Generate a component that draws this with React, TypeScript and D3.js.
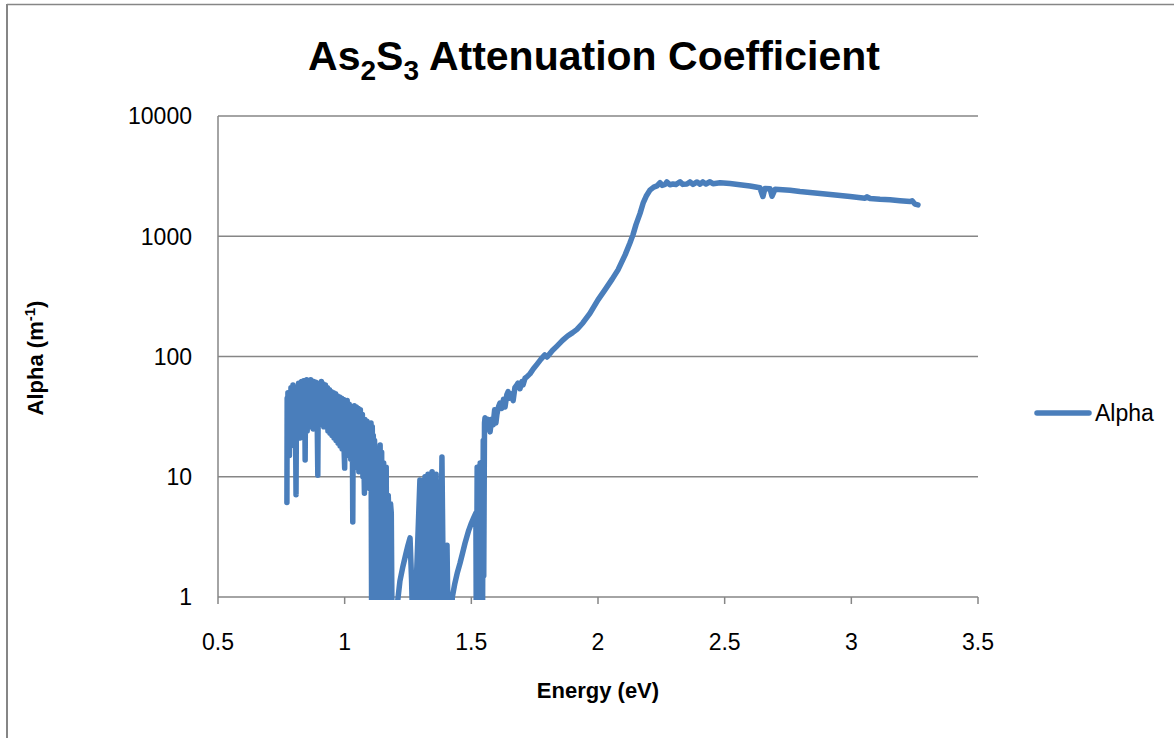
import React from "react";
import * as d3 from "d3";

// ---- data (energy eV, alpha m^-1) ----
const noisyRegion: [number, number][] = [
  [0.772, 6.1], [0.773, 45], [0.775, 16], [0.776, 50], [0.778, 22], [0.780, 42], [0.782, 15], [0.784, 48],
  [0.786, 19], [0.788, 55], [0.790, 24], [0.792, 52], [0.794, 20], [0.796, 58], [0.798, 26], [0.800, 45],
  [0.802, 18], [0.804, 54], [0.806, 28], [0.808, 7.1], [0.810, 50], [0.812, 22], [0.814, 56], [0.816, 30],
  [0.818, 60], [0.820, 24], [0.822, 52], [0.824, 21], [0.826, 58], [0.828, 27], [0.830, 62], [0.832, 23],
  [0.834, 55], [0.836, 30], [0.838, 63], [0.840, 25], [0.842, 57], [0.844, 13.8], [0.846, 60], [0.848, 28],
  [0.850, 64], [0.852, 24], [0.854, 58], [0.856, 31], [0.858, 62], [0.860, 26], [0.862, 56], [0.864, 33],
  [0.866, 64], [0.868, 27], [0.870, 60], [0.872, 30], [0.874, 55], [0.876, 25], [0.878, 62], [0.880, 32],
  [0.882, 58], [0.884, 27], [0.886, 61], [0.888, 29], [0.890, 56], [0.892, 24], [0.894, 10.3], [0.896, 54],
  [0.898, 30], [0.900, 60], [0.902, 27], [0.904, 57], [0.906, 33], [0.908, 62], [0.910, 28], [0.912, 55],
  [0.914, 31], [0.916, 59], [0.918, 26], [0.920, 53], [0.922, 30], [0.924, 58], [0.926, 27], [0.928, 52],
  [0.930, 29], [0.932, 55], [0.934, 24], [0.936, 50], [0.938, 28], [0.940, 53], [0.942, 23], [0.944, 48],
  [0.946, 27], [0.948, 51], [0.950, 22], [0.952, 47], [0.954, 26], [0.956, 50], [0.958, 21], [0.960, 45],
  [0.962, 25], [0.964, 49], [0.966, 20], [0.968, 44], [0.970, 24], [0.972, 47], [0.974, 19], [0.976, 43],
  [0.978, 23], [0.980, 46], [0.982, 18], [0.984, 42], [0.986, 22], [0.988, 45], [0.990, 17], [0.992, 40],
  [0.994, 21], [0.996, 44], [0.998, 16], [1.000, 11.8], [1.002, 42], [1.004, 20], [1.006, 38], [1.008, 16],
  [1.010, 43], [1.012, 19], [1.014, 37], [1.016, 15], [1.018, 40], [1.020, 18], [1.022, 35], [1.024, 14],
  [1.026, 38], [1.028, 17], [1.030, 33], [1.032, 4.2], [1.034, 36], [1.036, 16], [1.038, 39], [1.040, 13],
  [1.042, 34], [1.044, 15], [1.046, 38], [1.048, 12], [1.050, 33], [1.052, 16], [1.054, 37], [1.056, 11],
  [1.058, 32], [1.060, 14], [1.062, 36], [1.064, 12], [1.066, 30], [1.068, 15], [1.070, 33], [1.072, 10],
  [1.074, 29], [1.076, 13], [1.078, 7.3], [1.080, 30], [1.082, 11], [1.084, 27], [1.086, 12], [1.088, 29],
  [1.090, 9], [1.092, 26], [1.094, 11], [1.096, 28], [1.098, 8], [1.100, 24], [1.102, 10], [1.104, 28],
  [1.107, 0.3], [1.109, 26], [1.111, 8], [1.113, 22], [1.116, 0.3], [1.118, 20], [1.121, 0.3], [1.124, 2.4],
  [1.126, 0.3], [1.130, 14], [1.133, 5], [1.140, 18.4], [1.143, 0.3], [1.146, 16], [1.150, 0.3], [1.154, 13],
  [1.158, 0.3], [1.164, 12], [1.167, 0.3], [1.172, 7], [1.175, 4.5], [1.178, 0.3], [1.181, 6], [1.184, 5],
  [1.188, 0.3],
];

const gapRegion: [number, number][] = [
  [1.200, 0.6], [1.211, 1.0], [1.218, 1.35], [1.230, 1.8], [1.242, 2.3], [1.250, 2.7], [1.258, 3.1],
  [1.264, 1.4], [1.272, 0.3],
  [1.297, 9.4], [1.303, 0.3], [1.317, 10], [1.321, 0.3], [1.329, 10.5], [1.333, 0.3], [1.345, 11],
  [1.349, 0.3], [1.361, 10.5], [1.365, 0.3], [1.372, 9], [1.376, 0.3], [1.384, 14.6], [1.392, 0.3],
  [1.404, 2.7], [1.410, 0.3],
  [1.418, 0.5], [1.425, 1.0], [1.435, 1.3], [1.445, 1.6], [1.455, 1.9], [1.465, 2.3], [1.475, 2.8],
  [1.490, 3.6], [1.500, 4.1], [1.510, 4.6], [1.518, 5.0],
  [1.520, 0.3], [1.523, 12], [1.526, 0.3], [1.529, 10], [1.532, 0.3], [1.535, 13], [1.538, 0.3],
  [1.541, 8], [1.544, 0.5], [1.547, 20], [1.549, 1.5], [1.552, 28],
];

const riseRegion: [number, number][] = [
  [1.554, 31], [1.560, 27], [1.566, 30], [1.574, 23.6], [1.580, 30], [1.586, 27], [1.592, 36], [1.597, 28],
  [1.601, 33], [1.607, 38], [1.613, 41], [1.620, 37], [1.627, 44], [1.633, 38], [1.640, 48], [1.645, 51],
  [1.650, 45], [1.657, 49], [1.665, 43], [1.672, 55], [1.680, 58], [1.684, 60], [1.692, 54], [1.700, 62],
  [1.704, 58], [1.712, 66], [1.720, 68], [1.732, 72], [1.745, 79], [1.759, 86], [1.775, 95], [1.790, 103],
  [1.799, 99], [1.820, 112], [1.838, 122], [1.860, 136], [1.880, 148], [1.900, 158], [1.917, 168],
  [1.940, 190], [1.968, 228], [2.000, 296], [2.028, 360], [2.056, 440], [2.079, 525], [2.107, 700],
  [2.126, 880], [2.138, 1027], [2.150, 1250], [2.166, 1550], [2.178, 1884], [2.190, 2150], [2.205, 2420],
  [2.220, 2560], [2.233, 2620],
];

const plateauRegion: [number, number][] = [
  [2.245, 2790], [2.253, 2650], [2.265, 2700], [2.272, 2830], [2.284, 2680], [2.296, 2720], [2.308, 2690],
  [2.324, 2840], [2.335, 2700], [2.351, 2720], [2.363, 2830], [2.375, 2700], [2.391, 2830], [2.403, 2710],
  [2.414, 2830], [2.426, 2720], [2.442, 2840], [2.454, 2730], [2.482, 2790], [2.521, 2740], [2.560, 2680],
  [2.600, 2620], [2.639, 2530], [2.651, 2140], [2.659, 2500], [2.679, 2480], [2.687, 2150], [2.699, 2460],
  [2.758, 2410], [2.797, 2354], [2.857, 2290], [2.927, 2210], [2.995, 2140], [3.054, 2074], [3.062, 2130],
  [3.074, 2060], [3.113, 2030], [3.153, 2009], [3.192, 1975], [3.232, 1944], [3.240, 1975], [3.251, 1850],
  [3.263, 1825],
];

const xTicks = [0.5, 1, 1.5, 2, 2.5, 3, 3.5];
const yTicks = [1, 10, 100, 1000, 10000];
const seriesName = "Alpha";

const series = [...noisyRegion, ...gapRegion, ...riseRegion, ...plateauRegion];

export default function App() {
  const W = 1174, H = 738;
  const left = 218, right = 978, top = 116, bottom = 597;
  const x = d3.scaleLinear().domain([0.5, 3.5]).range([left, right]);
  const y = d3.scaleLog().domain([1, 10000]).range([bottom, top]);
  const line = d3
    .line<[number, number]>()
    .x((d) => x(d[0]))
    .y((d) => y(Math.max(d[1], 0.05)));
  const grid = "#868686";
  const blue = "#4A7EBB";
  const font = "'Liberation Sans', Arial, sans-serif";

  return (
    <svg
      width={W}
      height={H}
      style={{ position: "fixed", left: 0, top: 0, background: "#fff" }}
      fontFamily={font}
    >
      <rect x={0} y={0} width={W} height={H} fill="#fff" />
      <line x1={7} x2={W} y1={4.5} y2={4.5} stroke={grid} strokeWidth={1.3} />
      <line x1={7} x2={7} y1={4} y2={H} stroke={grid} strokeWidth={2} />
      <defs>
        <clipPath id="plotClip">
          <rect x={left - 5} y={top - 5} width={right - left + 10} height={bottom - top + 8} />
        </clipPath>
      </defs>

      {yTicks.slice(1).map((t) => (
        <line key={t} x1={left} x2={right} y1={y(t)} y2={y(t)} stroke={grid} strokeWidth={1.5} />
      ))}
      <line x1={left} x2={left} y1={top} y2={bottom} stroke={grid} strokeWidth={1.5} />
      <line x1={left} x2={right} y1={bottom} y2={bottom} stroke={grid} strokeWidth={1.5} />
      {xTicks.map((t) => (
        <line key={t} x1={x(t)} x2={x(t)} y1={bottom} y2={bottom + 7} stroke={grid} strokeWidth={1.5} />
      ))}

      {yTicks.map((t) => (
        <text key={t} x={192} y={y(t)} dy="0.36em" textAnchor="end" fontSize={23} fill="#000">
          {String(t)}
        </text>
      ))}
      {xTicks.map((t) => (
        <text key={t} x={x(t)} y={650} textAnchor="middle" fontSize={23} fill="#000">
          {String(t)}
        </text>
      ))}

      <g clipPath="url(#plotClip)">
        <path
          d={line(series) || ""}
          fill="none"
          stroke={blue}
          strokeWidth={5.5}
          strokeLinejoin="round"
          strokeLinecap="round"
        />
      </g>

      <text x={594} y={70} textAnchor="middle" fontSize={41} fontWeight="bold" fill="#000">
        As<tspan fontSize={28} dy={10}>2</tspan>
        <tspan dy={-10}>S</tspan>
        <tspan fontSize={28} dy={10}>3</tspan>
        <tspan dy={-10}> Attenuation Coefficient</tspan>
      </text>

      <text x={598} y={698} textAnchor="middle" fontSize={22} fontWeight="bold" fill="#000">
        Energy (eV)
      </text>

      <text
        transform="translate(43,358) rotate(-90)"
        textAnchor="middle"
        fontSize={22}
        fontWeight="bold"
        fill="#000"
      >
        Alpha (m<tspan fontSize={15} dy={-8}>-1</tspan>
        <tspan dy={8}>)</tspan>
      </text>

      <line x1={1037} x2={1089} y1={413} y2={413} stroke={blue} strokeWidth={5.5} strokeLinecap="round" />
      <text x={1095} y={421} fontSize={23} fill="#000">
        {seriesName}
      </text>
    </svg>
  );
}
